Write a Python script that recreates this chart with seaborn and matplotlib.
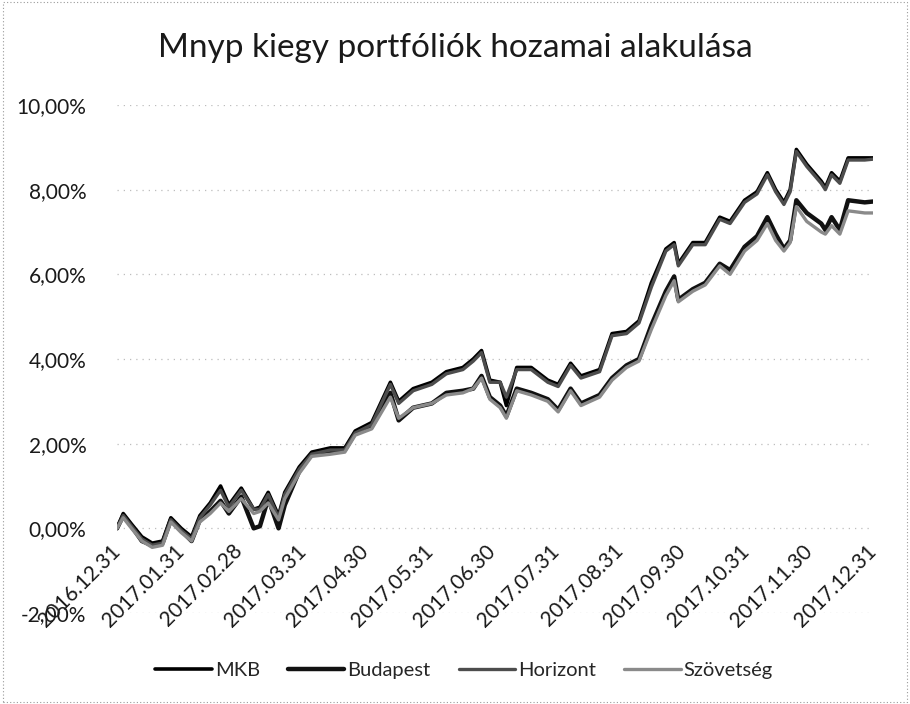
import pandas as pd
import matplotlib
matplotlib.use("Agg")
import matplotlib.pyplot as plt
import matplotlib.dates as mdates
from matplotlib.ticker import FuncFormatter
from matplotlib.patches import Rectangle
import seaborn as sns

# napi hozamok (kb. heti + csúcspontok), %-ban
dates = ["2016-12-31", "2017-01-03", "2017-01-07", "2017-01-12", "2017-01-17", "2017-01-22",
         "2017-01-26", "2017-01-31", "2017-02-05", "2017-02-09", "2017-02-14", "2017-02-19",
         "2017-02-23", "2017-03-01", "2017-03-07", "2017-03-10", "2017-03-14", "2017-03-19",
         "2017-03-22", "2017-03-29", "2017-04-04", "2017-04-13", "2017-04-20", "2017-04-25",
         "2017-05-03", "2017-05-12", "2017-05-16", "2017-05-23", "2017-06-01", "2017-06-08",
         "2017-06-16", "2017-06-21", "2017-06-25", "2017-06-29", "2017-07-04", "2017-07-07",
         "2017-07-12", "2017-07-19", "2017-07-27", "2017-08-01", "2017-08-07", "2017-08-12",
         "2017-08-21", "2017-08-27", "2017-09-03", "2017-09-09", "2017-09-15", "2017-09-22",
         "2017-09-26", "2017-09-28", "2017-10-05", "2017-10-11", "2017-10-18", "2017-10-23",
         "2017-10-30", "2017-11-05", "2017-11-10", "2017-11-14", "2017-11-18", "2017-11-21",
         "2017-11-24", "2017-11-29", "2017-12-06", "2017-12-08", "2017-12-11", "2017-12-15",
         "2017-12-19", "2017-12-27", "2017-12-31"]

mkb = [0.0, 0.35, 0.1, -0.2, -0.35, -0.3, 0.25, 0.0, -0.2, 0.3, 0.6, 1.0,
       0.55, 0.95, 0.45, 0.5, 0.85, 0.3, 0.85, 1.45, 1.8, 1.9, 1.9, 2.3,
       2.5, 3.45, 3.0, 3.3, 3.45, 3.7, 3.8, 4.0, 4.2, 3.5, 3.45, 2.9,
       3.8, 3.8, 3.5, 3.4, 3.9, 3.6, 3.75, 4.6, 4.65, 4.9, 5.8, 6.6,
       6.75, 6.25, 6.75, 6.75, 7.35, 7.25, 7.75, 7.95, 8.4, 8.0, 7.7, 8.0,
       8.95, 8.6, 8.2, 8.05, 8.4, 8.2, 8.75, 8.75, 8.75]

budapest = [0.0, 0.3, 0.05, -0.3, -0.4, -0.35, 0.2, -0.05, -0.3, 0.2, 0.4, 0.65,
            0.35, 0.75, 0.0, 0.05, 0.7, 0.0, 0.55, 1.35, 1.75, 1.8, 1.85, 2.25,
            2.4, 3.2, 2.55, 2.85, 2.95, 3.2, 3.25, 3.3, 3.6, 3.1, 2.9, 2.65,
            3.3, 3.2, 3.05, 2.8, 3.3, 2.95, 3.15, 3.55, 3.85, 4.0, 4.8, 5.6,
            5.95, 5.4, 5.65, 5.8, 6.25, 6.1, 6.65, 6.9, 7.35, 6.95, 6.6, 6.8,
            7.75, 7.45, 7.2, 7.05, 7.35, 7.05, 7.75, 7.7, 7.72]

horizont = [0.0, 0.3, 0.05, -0.25, -0.4, -0.35, 0.2, -0.05, -0.25, 0.25, 0.55, 0.9,
            0.5, 0.9, 0.45, 0.45, 0.8, 0.25, 0.8, 1.4, 1.75, 1.85, 1.85, 2.25,
            2.45, 3.4, 2.95, 3.25, 3.4, 3.65, 3.75, 3.95, 4.15, 3.45, 3.45, 3.1,
            3.75, 3.75, 3.45, 3.35, 3.85, 3.55, 3.7, 4.55, 4.6, 4.85, 5.7, 6.55,
            6.7, 6.2, 6.7, 6.7, 7.3, 7.2, 7.7, 7.9, 8.35, 7.95, 7.65, 7.95,
            8.9, 8.55, 8.15, 8.0, 8.35, 8.15, 8.7, 8.7, 8.72]

szovetseg = [0.0, 0.25, 0.0, -0.3, -0.45, -0.4, 0.15, -0.1, -0.3, 0.15, 0.35, 0.6,
             0.4, 0.7, 0.35, 0.4, 0.6, 0.2, 0.7, 1.3, 1.7, 1.75, 1.8, 2.2,
             2.35, 3.1, 2.6, 2.85, 2.95, 3.15, 3.2, 3.3, 3.55, 3.05, 2.85, 2.6,
             3.25, 3.15, 3.0, 2.75, 3.25, 2.9, 3.1, 3.5, 3.8, 3.95, 4.7, 5.5,
             5.85, 5.35, 5.6, 5.75, 6.2, 6.0, 6.55, 6.8, 7.2, 6.8, 6.55, 6.75,
             7.6, 7.25, 7.0, 6.95, 7.15, 6.95, 7.5, 7.45, 7.45]

series = ["MKB", "Budapest", "Horizont", "Szövetség"]
colors = ["#000000", "#111111", "#4d4d4d", "#8a8a8a"]
widths = [2.6, 3.2, 2.4, 2.4]

tick_dates = ["2016-12-31", "2017-01-31", "2017-02-28", "2017-03-31", "2017-04-30",
              "2017-05-31", "2017-06-30", "2017-07-31", "2017-08-31", "2017-09-30",
              "2017-10-31", "2017-11-30", "2017-12-31"]

df = pd.DataFrame({"Dátum": pd.to_datetime(dates), "MKB": mkb, "Budapest": budapest,
                   "Horizont": horizont, "Szövetség": szovetseg})
long = df.melt(id_vars="Dátum", var_name="Portfólió", value_name="Hozam")

sns.set_style("white")
plt.rcParams["font.family"] = ["Lato", "DejaVu Sans"]

fig = plt.figure(figsize=(9.1, 7.04), dpi=100)
ax = fig.add_axes([117 / 910, 1 - 613 / 704, (873 - 117) / 910, (613 - 105) / 704])

for name, c, lw in zip(series, colors, widths):
    sns.lineplot(data=long[long["Portfólió"] == name], x="Dátum", y="Hozam",
                 color=c, linewidth=lw, label=name, ax=ax)

ax.set_ylim(-2, 10)
ax.set_yticks([-2, 0, 2, 4, 6, 8, 10])
ax.yaxis.set_major_formatter(FuncFormatter(lambda v, p: f"{v:.2f}%".replace(".", ",")))
ax.set_xlim(pd.Timestamp("2016-12-31"), pd.Timestamp("2017-12-31"))
ax.set_xticks(pd.to_datetime(tick_dates))
ax.xaxis.set_major_formatter(mdates.DateFormatter("%Y.%m.%d"))

ax.grid(axis="y", color="#bdbdbd", linestyle=(0, (1, 4)), linewidth=0.9)
ax.grid(axis="x", visible=False)
for s in ax.spines.values():
    s.set_visible(False)
ax.spines["bottom"].set_position(("data", 0))
ax.tick_params(axis="both", length=0, labelsize=15, colors="#1a1a1a")
ax.tick_params(axis="y", pad=22)
ax.tick_params(axis="x", pad=14)
for lab in ax.get_xticklabels():
    lab.set_rotation(45)
    lab.set_ha("right")
    lab.set_va("center")
    lab.set_rotation_mode("anchor")
ax.set_xlabel("")
ax.set_ylabel("")

ax.legend_.remove()
h, l = ax.get_legend_handles_labels()
fig.legend(h, l, loc="center", bbox_to_anchor=(0.51, 0.048), ncol=4, frameon=False,
           fontsize=14.5, handlelength=2.8, handletextpad=0.15, columnspacing=1.4)

fig.suptitle("Mnyp kiegy portfóliók hozamai alakulása", x=0.5, y=0.932, va="center",
             fontsize=24, color="#1a1a1a")

fig.patches.append(Rectangle((0.003, 0.003), 0.994, 0.994, transform=fig.transFigure,
                             fill=False, edgecolor="#9a9a9a", linestyle=(0, (1, 2)),
                             linewidth=0.8))

fig.savefig("out.png", dpi=100)
